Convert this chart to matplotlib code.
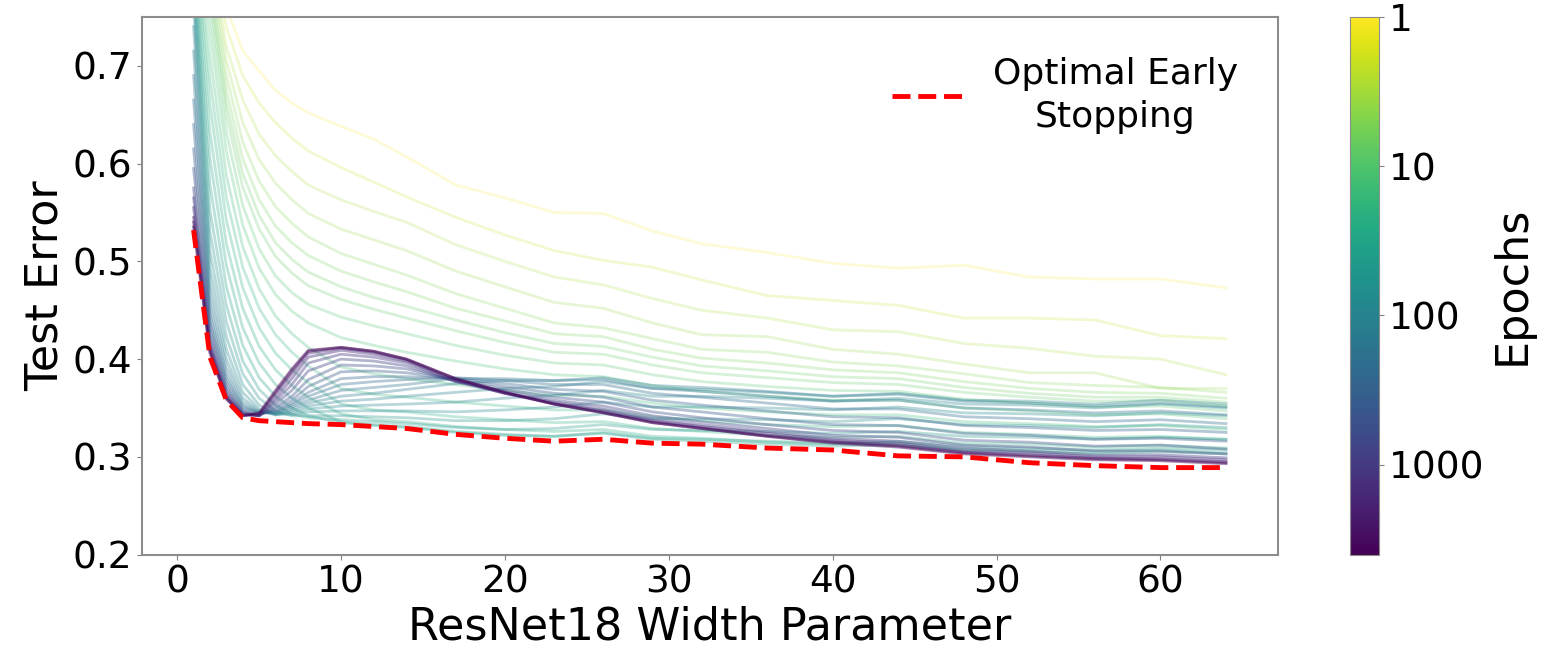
import matplotlib
matplotlib.use("Agg")
import matplotlib.pyplot as plt
from matplotlib.colors import LogNorm
from matplotlib.cm import ScalarMappable

plt.rcParams['font.family'] = ['DejaVu Sans']

# ResNet18 width parameter (x axis)
widths = [1, 2, 3, 4, 5, 6, 7, 8, 10, 12, 14, 17, 20, 23, 26, 29, 32, 36, 40, 44, 48, 52, 56, 60, 64]

# training epoch of each curve
epochs = [1, 2, 3, 4, 5, 6, 7, 8, 10, 12, 15, 18, 22, 27, 33, 40, 50, 60, 75, 90,
          110, 140, 180, 230, 300, 400, 550, 750, 1000, 1400, 2000, 2800, 4000]

# test error per epoch
err_ep1 = [.900, .840, .760, .715, .695, .675, .662, .652, .638, .625, .607, .578, .565, .550, .549, .531, .518, .509, .498, .493, .496, .484, .482, .482, .473]
err_ep2 = [.895, .830, .740, .690, .662, .642, .626, .613, .596, .581, .566, .545, .527, .511, .501, .494, .481, .465, .460, .455, .442, .442, .440, .424, .421]
err_ep3 = [.890, .820, .720, .665, .630, .608, .592, .578, .563, .551, .540, .517, .500, .484, .476, .462, .450, .442, .430, .428, .416, .411, .403, .400, .384]
err_ep4 = [.885, .810, .705, .642, .604, .580, .563, .549, .533, .522, .511, .490, .474, .458, .452, .437, .425, .423, .410, .405, .395, .386, .386, .370, .370]
err_ep5 = [.880, .800, .690, .622, .582, .556, .539, .525, .508, .497, .486, .467, .452, .437, .432, .421, .410, .407, .397, .393, .385, .376, .373, .371, .366]
err_ep6 = [.875, .790, .675, .605, .563, .536, .519, .506, .490, .479, .469, .452, .439, .426, .423, .410, .401, .396, .389, .386, .377, .370, .366, .365, .360]
err_ep7 = [.870, .780, .662, .590, .547, .519, .502, .489, .474, .463, .454, .440, .427, .416, .413, .402, .393, .388, .382, .380, .371, .365, .361, .361, .356]
err_ep8 = [.865, .770, .650, .576, .533, .505, .488, .475, .461, .451, .442, .429, .417, .407, .405, .394, .386, .381, .376, .374, .366, .361, .357, .358, .352]
err_ep10 = [.860, .755, .632, .557, .513, .485, .468, .456, .443, .434, .426, .414, .404, .396, .394, .384, .377, .372, .368, .367, .359, .355, .351, .352, .347]
err_ep12 = [.855, .735, .612, .537, .493, .466, .449, .437, .422, .414, .407, .398, .390, .384, .382, .373, .367, .362, .358, .358, .350, .347, .343, .344, .339]
err_ep15 = [.850, .710, .588, .515, .472, .444, .426, .412, .392, .385, .380, .374, .368, .363, .362, .355, .350, .346, .343, .343, .336, .334, .331, .332, .328]
err_ep18 = [.845, .685, .565, .494, .452, .425, .407, .393, .370, .364, .361, .356, .352, .348, .348, .341, .337, .333, .331, .332, .325, .323, .320, .321, .318]
err_ep22 = [.840, .660, .542, .473, .432, .406, .389, .376, .354, .348, .346, .341, .338, .335, .336, .329, .326, .322, .320, .321, .314, .313, .310, .312, .309]
err_ep27 = [.830, .632, .518, .452, .413, .389, .373, .361, .344, .338, .336, .331, .328, .326, .328, .321, .319, .315, .313, .314, .308, .307, .305, .307, .304]
err_ep33 = [.820, .605, .496, .432, .396, .374, .360, .350, .336, .333, .331, .326, .323, .321, .324, .318, .316, .313, .311, .312, .307, .305, .303, .305, .303]
err_ep40 = [.810, .578, .474, .414, .381, .362, .350, .342, .335, .332, .330, .325, .322, .321, .325, .319, .318, .316, .314, .316, .311, .309, .307, .309, .307]
err_ep50 = [.800, .552, .455, .398, .369, .353, .344, .340, .338, .336, .334, .330, .328, .329, .333, .328, .327, .326, .324, .326, .321, .320, .318, .320, .318]
err_ep60 = [.790, .530, .438, .385, .360, .347, .342, .342, .342, .341, .340, .337, .337, .339, .344, .339, .339, .338, .336, .339, .333, .332, .330, .333, .330]
err_ep75 = [.775, .510, .423, .374, .353, .344, .343, .346, .347, .347, .347, .346, .348, .351, .356, .351, .351, .350, .348, .351, .345, .344, .342, .345, .342]
err_ep90 = [.760, .493, .410, .366, .349, .343, .345, .349, .352, .353, .354, .356, .360, .363, .368, .362, .362, .360, .357, .360, .354, .353, .350, .354, .350]
err_ep110 = [.740, .478, .400, .360, .347, .343, .347, .352, .357, .359, .362, .366, .370, .372, .377, .370, .369, .366, .362, .365, .358, .357, .354, .358, .354]
err_ep140 = [.715, .465, .392, .356, .346, .344, .349, .355, .362, .365, .369, .375, .378, .378, .381, .373, .371, .367, .362, .364, .357, .355, .352, .355, .351]
err_ep180 = [.690, .454, .385, .353, .345, .345, .351, .358, .368, .371, .374, .380, .380, .378, .379, .370, .367, .362, .357, .358, .350, .348, .345, .347, .343]
err_ep230 = [.665, .445, .380, .351, .345, .346, .353, .362, .374, .377, .379, .381, .378, .374, .374, .365, .361, .355, .349, .349, .341, .339, .336, .338, .334]
err_ep300 = [.640, .438, .376, .349, .344, .347, .355, .366, .380, .382, .382, .380, .375, .369, .367, .358, .353, .347, .341, .340, .332, .330, .327, .328, .325]
err_ep400 = [.615, .432, .372, .347, .343, .349, .358, .372, .387, .388, .386, .379, .372, .365, .361, .351, .346, .339, .333, .332, .324, .322, .318, .319, .316]
err_ep550 = [.595, .426, .369, .346, .342, .351, .362, .379, .394, .393, .390, .378, .369, .361, .356, .346, .340, .333, .327, .325, .317, .315, .311, .312, .308]
err_ep750 = [.575, .420, .366, .345, .342, .354, .368, .388, .400, .398, .393, .377, .367, .358, .352, .342, .336, .329, .322, .320, .312, .310, .306, .306, .303]
err_ep1000 = [.565, .416, .364, .344, .342, .357, .374, .396, .405, .402, .396, .377, .365, .356, .349, .339, .333, .326, .319, .316, .309, .306, .302, .302, .299]
err_ep1400 = [.555, .413, .362, .343, .342, .360, .380, .402, .409, .405, .398, .378, .365, .355, .347, .337, .331, .324, .317, .314, .306, .304, .300, .300, .297]
err_ep2000 = [.545, .410, .361, .343, .343, .364, .385, .406, .411, .407, .399, .379, .365, .354, .346, .336, .330, .322, .316, .312, .305, .302, .299, .298, .295]
err_ep2800 = [.540, .408, .360, .342, .344, .366, .388, .408, .412, .408, .400, .380, .366, .354, .345, .335, .329, .321, .315, .311, .304, .301, .298, .297, .294]
err_ep4000 = [.535, .406, .359, .342, .345, .368, .390, .409, .412, .408, .400, .380, .366, .354, .345, .335, .329, .321, .314, .310, .303, .300, .297, .296, .293]

# best test error over all epochs
optimal_early_stopping = [.532, .402, .358, .340, .337, .336, .335, .334, .333, .331, .329, .323, .319, .316, .318, .314, .313, .309, .307, .301, .300, .294, .291, .289, .289]

curves = [err_ep1, err_ep2, err_ep3, err_ep4, err_ep5, err_ep6, err_ep7, err_ep8, err_ep10,
          err_ep12, err_ep15, err_ep18, err_ep22, err_ep27, err_ep33, err_ep40, err_ep50,
          err_ep60, err_ep75, err_ep90, err_ep110, err_ep140, err_ep180, err_ep230, err_ep300,
          err_ep400, err_ep550, err_ep750, err_ep1000, err_ep1400, err_ep2000, err_ep2800, err_ep4000]

fig = plt.figure(figsize=(15.43, 6.54), dpi=100)
ax = fig.add_axes([0.092, 0.152, 0.736, 0.822])
cax = fig.add_axes([0.875, 0.152, 0.019, 0.822])

norm = LogNorm(vmin=1, vmax=4000)
cmap = plt.get_cmap("viridis_r")

for ep, err in zip(epochs, curves):
    # early epochs are drawn fainter, late ones a bit stronger
    ax.plot(widths, err, color=cmap(norm(ep)), alpha=0.18 + 0.27 * norm(ep), lw=2.0)

ax.plot(widths, optimal_early_stopping, "--", color="red", lw=3.5, label="Optimal Early\nStopping")

ax.set_ylim(0.2, 0.75)
ax.set_xticks([0, 10, 20, 30, 40, 50, 60])
ax.set_yticks([0.2, 0.3, 0.4, 0.5, 0.6, 0.7])
ax.tick_params(labelsize=27, color="0.5")
for s in ax.spines.values():
    s.set_color("0.55")
    s.set_linewidth(1.5)
ax.set_xlabel("ResNet18 Width Parameter", fontsize=32)
ax.set_ylabel("Test Error", fontsize=32)

leg = ax.legend(loc="upper right", fontsize=26, frameon=False, borderaxespad=0.7)
for t in leg.get_texts():
    t.set_multialignment("center")
    t.set_linespacing(1.35)

sm = ScalarMappable(norm=norm, cmap=cmap)
cbar = fig.colorbar(sm, cax=cax)
cbar.ax.invert_yaxis()
cbar.set_ticks([1, 10, 100, 1000])
cbar.set_ticklabels(["1", "10", "100", "1000"])
cbar.ax.minorticks_off()
cbar.ax.tick_params(labelsize=27, color="0.5")
cbar.outline.set_edgecolor("0.55")
cbar.set_label("Epochs", fontsize=32)

fig.savefig("out.png", dpi=100)
